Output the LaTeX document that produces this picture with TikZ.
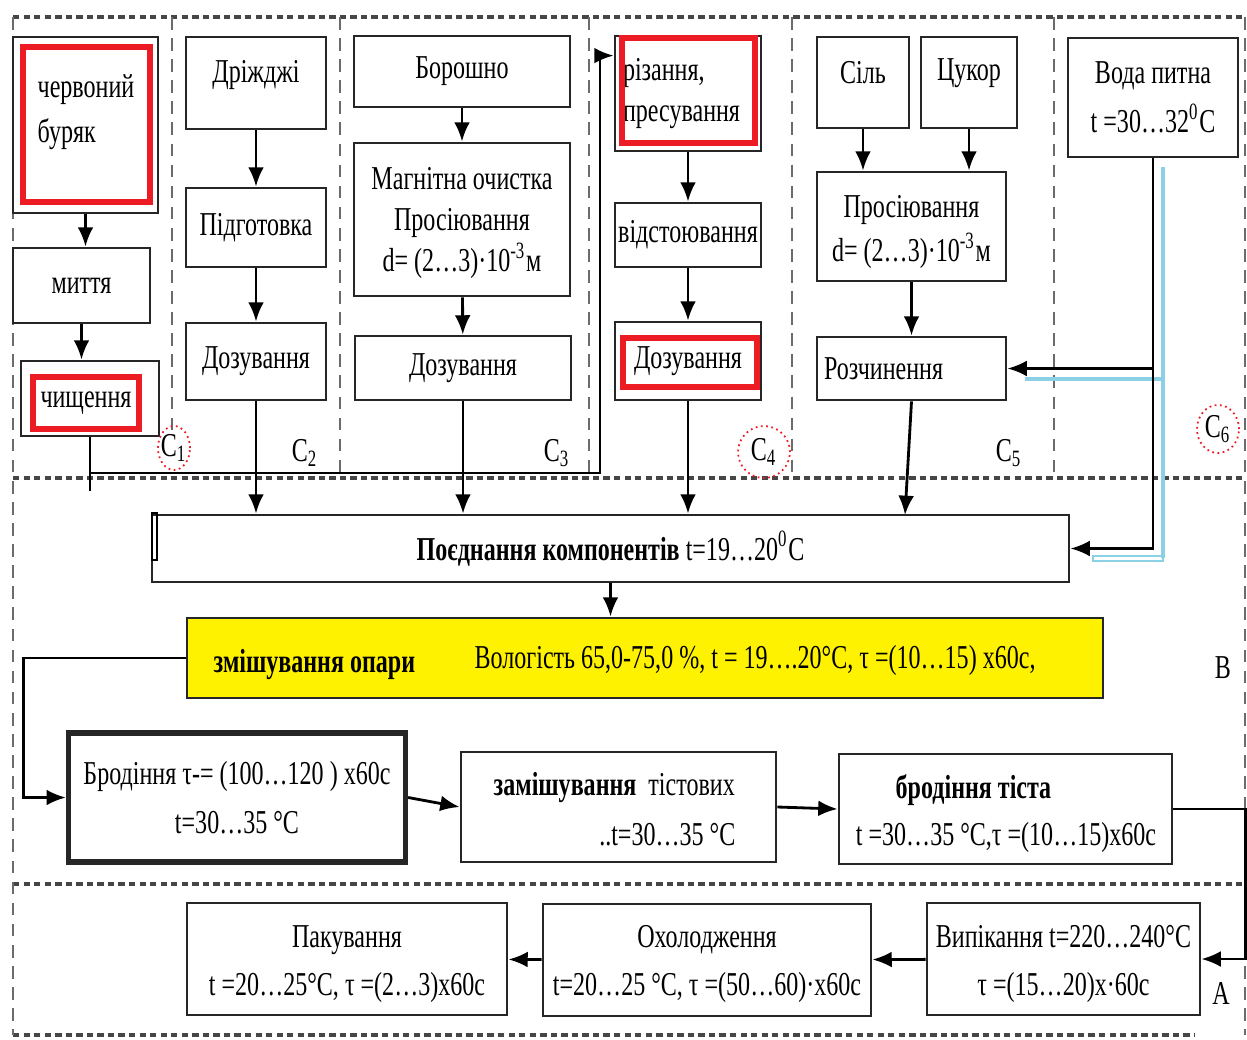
\documentclass[tikz,border=0pt]{standalone}
\usepackage{fontspec}
\setmainfont[FakeStretch=0.72]{Liberation Serif}
\usetikzlibrary{arrows.meta}
\definecolor{frame}{RGB}{70,70,70}
\definecolor{redmark}{RGB}{237,28,36}
\definecolor{mixyellow}{RGB}{255,242,0}
\definecolor{waterblue}{RGB}{140,208,230}
\tikzset{
  every node/.style={inner sep=0pt},
  box/.style={draw=black!85, line width=0.8pt, inner sep=0.5pt, align=center},
  sz/.style 2 args={minimum width=#1cm, minimum height=#2cm},
  redbox/.style={draw=redmark, line width=1.7pt},
  arr/.style={line width=0.8pt, -{Latex[length=5.5pt,width=4.5pt]}},
  sepline/.style={draw=frame, line width=0.9pt, dash pattern=on 1.8pt off 1.2pt},
  colline/.style={draw=frame!80, line width=0.7pt, dash pattern=on 3.6pt off 2.4pt},
  ring/.style={draw=redmark, line width=0.5pt, densely dotted},
}
\begin{document}
\begin{tikzpicture}[x=1cm, y=-1cm, font=\fontsize{9.5}{12.8}\selectfont]
\useasboundingbox (0,0) rectangle (12.47,10.39);
% frame of the zones
\draw[sepline] (0.13,0.17) -- (12.45,0.17);
\draw[sepline] (0.13,4.78) -- (12.45,4.78);
\draw[sepline] (0.13,8.84) -- (12.43,8.84);
\draw[sepline] (0.13,10.35) -- (11.95,10.35);
\draw[colline] (0.13,0.17) -- (0.13,10.35);
\draw[colline] (12.45,0.17) -- (12.45,10.35);
\draw[colline] (1.72,0.17) -- (1.72,4.33);
\foreach \x in {3.40,5.89,7.92,10.54}
  \draw[colline] (\x,0.17) -- (\x,4.78);

% C1
\node[box, sz={1.45}{1.76}] (beet) at (0.855,1.25) {};
\node[align=left, anchor=west] (beetT) at (0.37,1.12) {червоний\\буряк};
\node[box, sz={1.37}{0.75}] (wash) at (0.815,2.855) {миття};
\node[box, sz={1.38}{0.75}] (chysh) at (0.90,3.985) {};
\node (chyshT) at (0.86,4.03) {чищення};
% C2
\node[box, sz={1.40}{0.92}] (yeast) at (2.56,0.83) {};
\node (yeastT) at (2.56,0.75) {Дріжджі};
\node[box, sz={1.40}{0.79}] (prep) at (2.56,2.275) {Підготовка};
\node[box, sz={1.40}{0.77}] (doz2) at (2.56,3.615) {Дозування};
% C3
\node[box, sz={2.16}{0.71}] (flour) at (4.62,0.715) {Борошно};
\node[box, sz={2.16}{1.53}] (magn) at (4.62,2.195) {};
\node[align=center] (magnT) at (4.62,2.23)
  {Магнітна очистка\\[-1pt]Просіювання\\[-1pt]d= (2…3)·10\textsuperscript{-3}м};
\node[box, sz={2.16}{0.64}] (doz3) at (4.63,3.68) {Дозування};
% C4
\node[box, sz={1.46}{1.15}, text width=1.3cm, align=left] (rizan) at (6.88,0.935)
  {різання,\\[-1pt]пресування};
\node[box, sz={1.46}{0.64}] (settle) at (6.88,2.35) {відстоювання};
\node[box, sz={1.46}{0.78}] (doz4) at (6.88,3.61) {Дозування};
% C5
\node[box, sz={0.92}{0.91}] (salt) at (8.63,0.825) {};
\node (saltT) at (8.63,0.73) {Сіль};
\node[box, sz={0.96}{0.91}] (sugar) at (9.69,0.825) {};
\node (sugarT) at (9.69,0.73) {Цукор};
\node[box, sz={1.89}{1.09}] (sift) at (9.115,2.265) {};
\node[align=center] (siftT) at (9.115,2.32)
  {Просіювання\\d= (2…3)·10\textsuperscript{-3}м};
\node[box, sz={1.89}{0.63}, text width=1.75cm, align=left] (rozch) at (9.115,3.685)
  {Розчинення};
% C6
\node[box, sz={1.70}{1.19}] (water) at (11.53,0.975)
  {Вода питна\\[1pt]t =30…32\textsuperscript{0}C};

% zone B
\node[box, sz={9.17}{0.67}] (join) at (6.105,5.485)
  {\textbf{Поєднання компонентів} t=19…20\textsuperscript{0}C};
\draw[line width=0.6pt] (1.52,5.13) rectangle (1.57,5.60);
\node[box, fill=mixyellow, sz={9.16}{0.80}] (mix) at (6.45,6.58) {};
\node[anchor=west] (mixA) at (2.13,6.65) {\textbf{змішування опари}};
\node[anchor=west] (mixB) at (4.74,6.60)
  {Вологість 65,0-75,0 \%, t = 19….20°C, τ =(10…15) x60с,};
\node[box, line width=1.5pt, sz={3.37}{1.29}] (brod) at (2.37,7.975)
  {Бродіння τ-= (100…120 ) x60с\\[1pt]t=30…35 °C};
\node[box, sz={3.15}{1.10}] (zam) at (6.185,8.07) {};
\node[anchor=west] (zamA) at (4.93,7.88) {\textbf{замішування} \ тістових};
\node[anchor=east] (zamB) at (7.36,8.35) {..t=30…35 °C};
\node[box, sz={3.33}{1.10}] (brt) at (10.055,8.09) {};
\node[anchor=west] (brtA) at (8.95,7.90) {\textbf{бродіння тіста}};
\node (brtB) at (10.06,8.37) {t =30…35 °C,τ =(10…15)x60с};

% zone A
\node[box, sz={2.73}{1.12}] (bake) at (10.635,9.59) {};
\node[align=center] (bakeT) at (10.635,9.64)
  {Випікання t=220…240°C\\[1pt]τ =(15…20)x·60с};
\node[box, sz={3.28}{1.12}] (cool) at (7.07,9.60) {};
\node[align=center] (coolT) at (7.07,9.64)
  {Охолодження\\[1pt]t=20…25 °C, τ =(50…60)·x60с};
\node[box, sz={3.20}{1.12}] (pack) at (3.47,9.59) {};
\node[align=center] (packT) at (3.47,9.64)
  {Пакування\\[1pt]t =20…25°C, τ =(2…3)x60с};

% red marks
\draw[redbox] (0.23,0.47) rectangle (1.50,2.02);
\draw[redbox] (0.33,3.77) rectangle (1.39,4.29);
\draw[redbox] (6.22,0.38) rectangle (7.55,1.43);
\draw[redbox] (6.23,3.38) rectangle (7.57,3.87);

% water line
\draw[waterblue, line width=1.2pt] (11.63,1.67) -- (11.63,5.58);
\draw[waterblue, line width=1.2pt] (10.25,3.79) -- (11.63,3.79);
\draw[waterblue, line width=0.8pt] (10.93,5.56) rectangle (11.63,5.61);

% arrows
\draw[arr] (beet.south) -- (beet.south |- wash.north);
\draw[arr] (wash.south) -- (wash.south |- chysh.north);
\draw[line width=0.8pt] (chysh.south) -- ++(0,0.54);
\draw[arr] (chysh.south) |- (6.00,4.73) |- ([yshift=-0.21cm]rizan.north west);
\draw[arr] (yeast) -- (prep);
\draw[arr] (prep) -- (doz2);
\draw[arr] (doz2.south) -- (doz2.south |- join.north);
\draw[arr] (flour) -- (magn);
\draw[arr] (magn) -- (doz3);
\draw[arr] (doz3.south) -- (doz3.south |- join.north);
\draw[arr] (rizan) -- (settle);
\draw[arr] (settle) -- (doz4);
\draw[arr] (doz4.south) -- (doz4.south |- join.north);
\draw[arr] (salt.south) -- (salt.south |- sift.north);
\draw[arr] (sugar.south) -- (sugar.south |- sift.north);
\draw[arr] (sift) -- (rozch);
\draw[arr] (rozch.south) -- (9.05,5.15);
\draw[arr] (water.south) |- (rozch.east);
\draw[arr] (water.south) |- (join.east);
\draw[arr] (join.south) -- (join.south |- mix.north);
\draw[arr] (mix.west) -- ++(-1.62,0) |- (brod.west);
\draw[arr] (brod.east) -- (zam.west);
\draw[arr] (zam.east) -- (brt.west);
\draw[arr] (brt.east) -- ++(0.72,0) |- (bake.east);
\draw[arr] (bake) -- (cool);
\draw[arr] (cool) -- (pack);

% zone labels
\node (c1) at (1.74,4.48) {C\textsubscript{1}};
\draw[ring] (c1) circle[x radius=0.16cm, y radius=0.22cm];
\node (c2) at (3.05,4.53) {C\textsubscript{2}};
\node (c3) at (5.57,4.53) {C\textsubscript{3}};
\node (c4) at (7.64,4.52) {C\textsubscript{4}};
\draw[ring] (c4) circle[radius=0.26cm];
\node (c5) at (10.09,4.53) {C\textsubscript{5}};
\node (c6) at (12.18,4.29) {C\textsubscript{6}};
\draw[ring] (c6) circle[x radius=0.21cm, y radius=0.24cm];
\node (zb) at (12.23,6.68) {B};
\node (za) at (12.21,9.93) {A};
\end{tikzpicture}
\end{document}
